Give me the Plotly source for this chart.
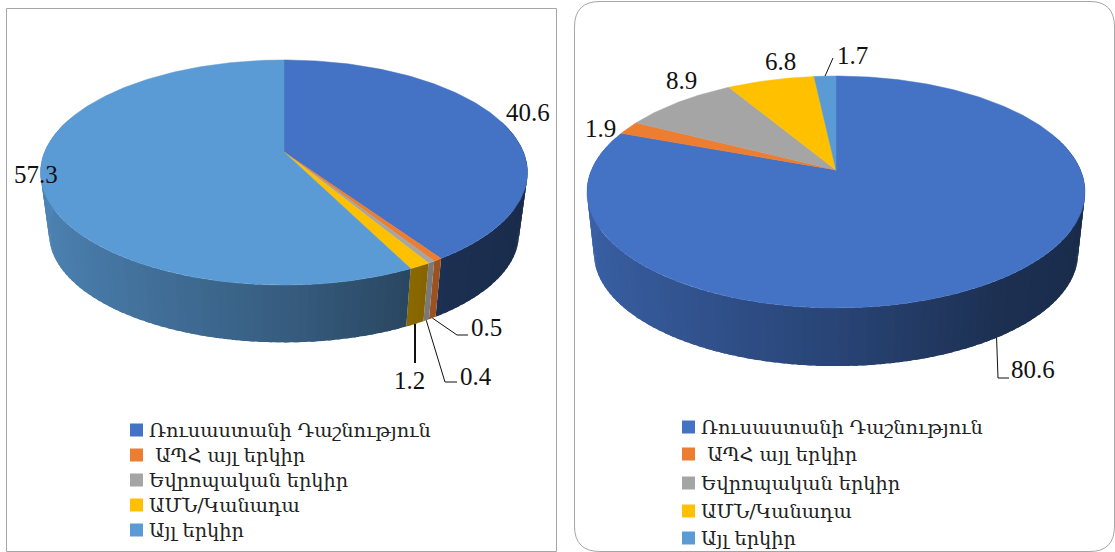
import numpy as np
import plotly.graph_objects as go

CATEGORIES = ["Ռուսաստանի Դաշնություն", "\u00a0ԱՊՀ այլ երկիր", "Եվրոպական երկիր", "ԱՄՆ/Կանադա", "Այլ երկիր"]
LEFT_VALUES = [40.6, 0.5, 0.4, 1.2, 57.3]
RIGHT_VALUES = [80.6, 1.9, 8.9, 6.8, 1.7]
COLORS = ["#4472C4", "#ED7D31", "#A5A5A5", "#FFC000", "#5B9BD5"]
WALL_BOOST = [1.0, 1.55, 1.7, 1.2, 1.0]

SERIF = "Liberation Serif"
LEGEND_FONT = "DejaVu Serif"

# projection parameters of each pie: apex, half-extents, tilt, wall depth
LEFT_GEO = dict(cx=284, y0=152, a=239.4, b=108.8, k=0.1822, depth=62, s=0.965)
RIGHT_GEO = dict(cx=836, y0=170, a=244.5, b=111.8, k=0.1897, depth=62, s=0.972)


def project(theta, g, bottom=False):
    u, v = np.sin(theta), np.cos(theta)
    w = 1 + g["k"] * v
    s = g["s"] if bottom else 1.0
    d = g["depth"] if bottom else 0.0
    return g["cx"] + s * g["a"] * u / w, g["y0"] + d - s * g["b"] * v / w


def hex_shade(color, f):
    r, g, b = (int(color[i:i + 2], 16) for i in (1, 3, 5))
    return "rgb(%d,%d,%d)" % tuple(min(255, round(c * f)) for c in (r, g, b))


def shade_at(theta, boost):
    return min(1.0, boost * np.interp(np.sin(theta), [-1, 0, 0.55, 1], [0.85, 0.6, 0.42, 0.38]))


def bounds(values):
    c = np.cumsum([0] + list(values))
    return c / c[-1] * 2 * np.pi


def add_pie(fig, values, g):
    edges = bounds(values)
    step = 2 * np.pi * 0.005
    for i in range(len(values)):
        n = max(1, int(np.ceil((edges[i + 1] - edges[i]) / step)))
        t = np.linspace(edges[i], edges[i + 1], n + 1)
        # strips are drawn in angular order; each one runs on under the next so no seam shows
        for j in range(n):
            mid = (t[j] + t[j + 1]) / 2
            if np.cos(mid) > 0.3:
                continue
            end = min(t[j + 1] + step * 0.6, edges[i + 1])
            tt = np.linspace(t[j], end, 4)
            xa, ya = project(tt, g)
            xb, yb = project(tt[::-1], g, bottom=True)
            col = hex_shade(COLORS[i], shade_at(mid, WALL_BOOST[i]))
            fig.add_trace(go.Scatter(x=np.r_[xa, xb], y=np.r_[ya, yb], mode="none", fill="toself",
                                     fillcolor=col, hoverinfo="skip"))
    for i, val in enumerate(values):
        tt = np.linspace(edges[i], edges[i + 1], max(3, int(val * 4)))
        x, y = project(tt, g)
        fig.add_trace(go.Scatter(x=np.r_[g["cx"], x, g["cx"]], y=np.r_[g["y0"], y, g["y0"]], mode="lines",
                                 fill="toself", fillcolor=COLORS[i], line=dict(color=COLORS[i], width=0.5),
                                 name=CATEGORIES[i], hoverinfo="name"))


def add_leader(fig, values, g, idx, via, width=1.0):
    edges = bounds(values)
    mid = (edges[idx] + edges[idx + 1]) / 2
    has_wall = np.cos(mid) < 0
    x0, y0 = project(mid, g, bottom=has_wall)
    xs = [x0] + [p[0] if p[0] is not None else x0 for p in via]
    ys = [y0] + [p[1] for p in via]
    fig.add_trace(go.Scatter(x=xs, y=ys, mode="lines", line=dict(color="#111", width=width), hoverinfo="skip"))


def add_legend(fig, sq_x, text_x, ys):
    for name, color, y in zip(CATEGORIES, COLORS, ys):
        fig.add_shape(type="rect", x0=sq_x, x1=sq_x + 13, y0=y - 6.5, y1=y + 6.5,
                      fillcolor=color, line=dict(width=0))
        fig.add_annotation(x=text_x, y=y, text=name, showarrow=False, xanchor="left", yanchor="middle",
                           font=dict(family=LEGEND_FONT, size=19.3, color="#222"), xshift=-3)


fig = go.Figure()
add_pie(fig, LEFT_VALUES, LEFT_GEO)
add_pie(fig, RIGHT_VALUES, RIGHT_GEO)

add_leader(fig, LEFT_VALUES, LEFT_GEO, 1, [(457, 335), (468, 335)])
add_leader(fig, LEFT_VALUES, LEFT_GEO, 2, [(445, 382), (457, 382)])
add_leader(fig, LEFT_VALUES, LEFT_GEO, 3, [(None, 363)], width=2)
add_leader(fig, RIGHT_VALUES, RIGHT_GEO, 0, [(998, 378), (1009, 378)])
add_leader(fig, RIGHT_VALUES, RIGHT_GEO, 4, [(833, 58)])

LABELS = [
    (LEFT_VALUES[0], 528, 112), (LEFT_VALUES[1], 486, 327), (LEFT_VALUES[2], 476, 376),
    (LEFT_VALUES[3], 409, 380), (LEFT_VALUES[4], 36, 174),
    (RIGHT_VALUES[0], 1033, 369), (RIGHT_VALUES[1], 600, 128), (RIGHT_VALUES[2], 681, 80),
    (RIGHT_VALUES[3], 780, 61), (RIGHT_VALUES[4], 852, 55),
]
for val, x, y in LABELS:
    fig.add_annotation(x=x, y=y, text=f"{val}", showarrow=False, xanchor="center", yanchor="middle",
                       font=dict(family=SERIF, size=25, color="#111"))

add_legend(fig, 130, 150, [430, 455, 480, 505, 530])
add_legend(fig, 682, 702, [427, 454, 483, 511, 538])

fig.add_shape(type="rect", x0=6.5, x1=556.5, y0=8.5, y1=551.5, line=dict(color="#a6a6a6", width=1))
fig.add_shape(type="path", line=dict(color="#a6a6a6", width=1),
              path="M 574.5 27 Q 574.5 1.5 600 1.5 L 1090 1.5 Q 1114.5 1.5 1114.5 27 "
                   "L 1114.5 526 Q 1114.5 551.5 1090 551.5 L 600 551.5 Q 574.5 551.5 574.5 526 Z")

fig.update_layout(
    width=1115, height=552, margin=dict(l=0, r=0, t=0, b=0), showlegend=False,
    paper_bgcolor="white", plot_bgcolor="white",
    xaxis=dict(range=[0, 1115], visible=False, fixedrange=True),
    yaxis=dict(range=[552, 0], visible=False, fixedrange=True),
)
fig.write_html("out.html", include_plotlyjs=True, config=dict(displayModeBar=False),
               post_script="document.body.style.margin='0';document.body.style.overflow='hidden';")
